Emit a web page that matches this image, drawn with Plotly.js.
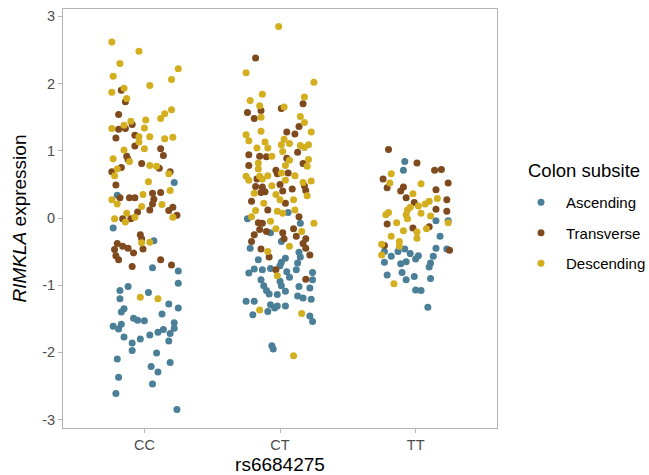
<!DOCTYPE html>
<html>
<head>
<meta charset="utf-8">
<script src="https://cdn.plot.ly/plotly-3.0.1.min.js"></script>
<style>html,body{margin:0;padding:0;background:#fff;}#chart{width:649px;height:475px;}</style>
</head>
<body>
<div id="chart"></div>
<script>
const genotypes = ['CC', 'CT', 'TT'];
const subsites = ['Ascending', 'Transverse', 'Descending'];
const legendTitle = 'Colon subsite';
const yTicks = [-3, -2, -1, 0, 1, 2, 3];
const yTickLabels = ['-3', '-2', '-1', '0', '1', '2', '3'];

// jitter offsets (category units) and expression values, per genotype and subsite
const ccAscJ = [0.22,-0.20,-0.23,0.07,0.06,0.25,0.25,-0.12,-0.18,0.03,-0.18,0.18,0.25,-0.15,-0.17,0.13,-0.08,-0.05,0,0.22,-0.23,-0.17,-0.19,0.22,0.14,0.10,0.19,0.04,-0.15,-0.03,-0.09,0.18,-0.09,0.09,-0.20,0.19,0.05,0.10,-0.19,0.06,-0.21,0.24];
const ccAscV = [0.53,0.34,-0.15,-0.34,-0.74,-0.79,-0.97,-1.02,-1.08,-1.11,-1.20,-1.28,-1.34,-1.35,-1.40,-1.43,-1.49,-1.52,-1.53,-1.56,-1.61,-1.58,-1.65,-1.64,-1.66,-1.70,-1.72,-1.74,-1.77,-1.80,-1.86,-1.83,-1.97,-2.01,-2.10,-2.15,-2.21,-2.29,-2.37,-2.47,-2.61,-2.85];
const ccTrJ = [-0.17,-0.14,-0.19,-0.09,-0.19,-0.14,-0.21,-0.07,-0.07,0.12,0.14,-0.13,-0.12,-0.02,0.11,-0.17,-0.24,0.19,-0.21,0.06,0.12,-0.18,-0.11,-0.07,0.07,0.06,0.21,0.04,-0.05,0.18,0.24,-0.16,-0.10,-0.03,-0.02,-0.20,-0.16,-0.12,-0.22,-0.01,-0.08,-0.21,-0.19,0.12,0.20,-0.09];
const ccTrV = [1.90,1.73,1.54,1.39,1.32,1.33,1.19,1.23,1.07,1.03,0.93,0.92,0.87,0.81,0.74,0.75,0.69,0.69,0.49,0.37,0.38,0.30,0.30,0.30,0.28,0.21,0.16,0.12,0.09,0.11,0.04,-0.01,-0.01,-0.25,-0.31,-0.38,-0.42,-0.45,-0.47,-0.46,-0.52,-0.56,-0.62,-0.62,-0.70,-0.72];
const ccDeJ = [-0.24,-0.04,-0.18,0.25,-0.23,0.20,0.04,-0.24,-0.15,-0.13,0.20,0.15,0.12,0.01,-0.10,-0.24,-0.15,0,-0.04,0.04,0.15,0.21,-0.04,0,-0.15,-0.11,-0.23,0.04,0.09,-0.20,-0.22,0.18,0.03,0.19,-0.01,-0.24,-0.20,0.13,-0.02,-0.13,0.21,-0.22,-0.07,-0.14,-0.02,0.04,-0.03,0.10];
const ccDeV = [2.62,2.48,2.30,2.22,2.11,2.06,1.97,1.87,1.93,1.78,1.61,1.55,1.48,1.46,1.44,1.33,1.38,1.34,1.21,1.21,1.18,1.20,1.13,1.03,1.01,0.84,0.88,0.78,0.77,0.73,0.63,0.66,0.54,0.41,0.35,0.27,0.21,0.20,0.17,0.07,0.01,-0.01,0.01,-0.06,-0.37,-0.36,-1.18,-1.20];

const ctAscJ = [0.06,-0.24,0.15,-0.07,0.01,-0.22,0.14,0.15,0.04,-0.16,0.01,0.13,0,-0.19,-0.13,-0.07,0.12,-0.23,0.05,0.24,0.07,0.24,-0.14,0,-0.12,0.14,0.22,0.01,-0.10,0.04,0.13,0.17,0.23,-0.02,-0.08,-0.25,-0.19,-0.07,-0.02,0.04,-0.04,-0.09,-0.20,0.22,0.24,-0.06,-0.05];
const ctAscV = [0.08,-0.01,-0.08,-0.22,-0.35,-0.45,-0.51,-0.58,-0.60,-0.62,-0.66,-0.67,-0.71,-0.76,-0.77,-0.75,-0.77,-0.82,-0.80,-0.81,-0.88,-0.92,-0.92,-0.94,-1.01,-1.02,-1.04,-1.01,-1.08,-1.09,-1.16,-1.19,-1.21,-1.14,-1.13,-1.24,-1.24,-1.29,-1.31,-1.31,-1.34,-1.39,-1.44,-1.46,-1.54,-1.90,-1.95];
const ctTrJ = [-0.18,0.17,0.01,-0.24,-0.14,-0.19,0.14,0.05,0.11,0.13,-0.23,-0.15,-0.10,0.05,-0.23,0.17,-0.03,-0.02,0.06,-0.17,-0.18,-0.13,-0.11,-0.14,0,0.02,0.09,0.18,0.19,-0.21,0.04,-0.09,0.14,-0.16,-0.13,-0.15,-0.10,-0.19,0.02,0.10,0.12,0.19,-0.21,0.03,0.17,0.19,-0.14,0.22,-0.08,-0.03,0.19];
const ctTrV = [2.38,1.70,1.63,1.57,1.60,1.48,1.36,1.28,1.25,0.98,0.94,0.92,0.91,0.89,0.78,0.81,0.71,0.66,0.67,0.58,0.47,0.46,0.39,0.38,0.50,0.40,0.43,0.48,0.41,0.25,0.22,0.12,0.02,-0.07,-0.08,-0.17,-0.20,-0.25,-0.22,-0.16,-0.27,-0.31,-0.35,-0.31,-0.38,-0.45,-0.46,-0.55,-0.58,-0.77,-0.91];
const ctDeJ = [-0.01,-0.25,0.25,-0.13,0.18,-0.22,-0.15,0.03,-0.14,0.15,0.18,-0.14,0.23,-0.25,0.03,-0.23,-0.11,0.01,0.07,0.15,0.21,0.18,-0.17,-0.09,0.02,-0.06,0.07,0.21,-0.16,0.04,0.20,-0.16,0.01,-0.25,-0.09,-0.15,0.11,-0.23,-0.13,0.04,0.17,0.23,-0.06,-0.19,-0.03,0,-0.12,0.10,0.20,-0.18,-0.02,0.02,0.11,-0.21,-0.07,0.25,-0.03,0.16,-0.09,0.07,-0.02,-0.15,0.16,0.10];
const ctDeV = [2.85,2.16,2.02,1.84,1.80,1.75,1.67,1.65,1.50,1.51,1.42,1.29,1.28,1.24,1.17,1.15,1.13,1.09,1.11,1.08,1.09,1.05,1.04,1.04,0.99,0.92,0.86,0.87,0.82,0.78,0.77,0.73,0.67,0.62,0.63,0.62,0.63,0.56,0.58,0.56,0.53,0.55,0.48,0.37,0.35,0.27,0.22,0.27,0.33,0.11,0.10,0.07,0.12,0.02,-0.05,-0.08,-0.16,-0.20,-0.50,-0.42,-0.86,-1.37,-1.42,-2.05];

const ttAscJ = [-0.08,-0.09,0.15,0.24,0.18,0.15,-0.23,-0.18,-0.13,-0.08,-0.04,0.02,0,-0.07,-0.11,-0.23,0.13,0.11,0.10,0.23,-0.21,-0.10,-0.01,-0.07,0.11,0,0.04,0.09];
const ttAscV = [0.84,0.71,-0.04,-0.04,-0.27,-0.45,-0.50,-0.57,-0.50,-0.46,-0.53,-0.56,-0.61,-0.65,-0.68,-0.66,-0.57,-0.67,-0.73,-0.46,-0.85,-0.81,-0.87,-0.92,-0.90,-1.07,-1.08,-1.33];
const ttTrJ = [-0.20,0.01,0.14,0.19,-0.24,0.24,-0.21,-0.09,-0.11,0.15,-0.07,0.23,-0.01,0.15,0.23,-0.21,-0.02,0.10,-0.23,0.25];
const ttTrV = [1.02,0.82,0.71,0.72,0.58,0.52,0.45,0.46,0.40,0.42,0.30,0.27,0.23,0.13,0.10,-0.09,-0.15,-0.13,-0.41,-0.48];
const ttDeJ = [-0.18,-0.19,0.04,-0.02,0.16,0.10,0.07,0.02,-0.04,-0.06,-0.20,-0.22,-0.07,0.04,0.11,-0.06,-0.14,0.24,0.08,-0.09,0.01,0.01,-0.18,-0.12,-0.12,-0.25,-0.25,-0.16];
const ttDeV = [0.66,0.52,0.51,0.36,0.29,0.25,0.21,0.18,0.16,0.12,0.08,0.05,0.05,0.07,0.03,-0.01,-0.07,-0.07,-0.16,-0.19,-0.21,-0.30,-0.27,-0.35,-0.42,-0.39,-0.55,-0.98];

const colors = ['#4a7f97', '#7f4a1e', '#d3ae1f'];
const FONT = 'Liberation Sans, Arial, Helvetica, sans-serif';

const jitters = [[ccAscJ, ctAscJ, ttAscJ], [ccTrJ, ctTrJ, ttTrJ], [ccDeJ, ctDeJ, ttDeJ]];
const values = [[ccAscV, ctAscV, ttAscV], [ccTrV, ctTrV, ttTrV], [ccDeV, ctDeV, ttDeV]];

const traces = subsites.map((name, s) => {
  const x = [], y = [];
  genotypes.forEach((g, gi) => {
    jitters[s][gi].forEach((j, k) => { x.push(gi + 1 + j); y.push(values[s][gi][k]); });
  });
  return {
    type: 'scatter', mode: 'markers', name: name, x: x, y: y,
    legendgroup: name,
    marker: {color: colors[s], size: 7, line: {width: 0}},
    hoverinfo: 'skip'
  };
});

const layout = {
  width: 649, height: 475,
  margin: {l: 63, r: 152, t: 9, b: 47},
  paper_bgcolor: '#ffffff', plot_bgcolor: '#ffffff',
  font: {family: FONT, color: '#000000'},
  showlegend: true,
  xaxis: {
    range: [0.4, 3.6], tickmode: 'array', tickvals: [1, 2, 3], ticktext: genotypes,
    showgrid: false, zeroline: false, automargin: false,
    showline: true, mirror: true, linecolor: '#b3b3b3', linewidth: 1,
    ticks: 'outside', ticklen: 4, tickcolor: '#b3b3b3', tickwidth: 1,
    tickfont: {family: FONT, size: 14.5, color: '#4d4d4d'},
    title: {text: 'rs6684275', font: {family: FONT, size: 19, color: '#000000'}, standoff: 5}
  },
  yaxis: {
    range: [-3.125, 3.11], tickmode: 'array', tickvals: yTicks, ticktext: yTickLabels,
    showgrid: false, zeroline: false, automargin: false,
    showline: true, mirror: true, linecolor: '#b3b3b3', linewidth: 1,
    ticks: 'outside', ticklen: 4, tickcolor: '#b3b3b3', tickwidth: 1,
    tickfont: {family: FONT, size: 14.5, color: '#4d4d4d'},
    title: {text: '<i>RIMKLA</i> expression', font: {family: FONT, size: 19, color: '#000000'}, standoff: 10}
  },
  legend: {
    xref: 'container', yref: 'container',
    x: 516 / 649, xanchor: 'left', y: 1 - 186 / 475, yanchor: 'top',
    bgcolor: 'rgba(0,0,0,0)', borderwidth: 0,
    tracegroupgap: 8, itemwidth: 40,
    font: {family: FONT, size: 15, color: '#000000'}
  },
  annotations: [{
    text: legendTitle, xref: 'paper', yref: 'paper',
    x: (526 - 63) / 434, xanchor: 'left', y: (428 - 170) / 419, yanchor: 'middle',
    showarrow: false, font: {family: FONT, size: 18.5, color: '#000000'}
  }]
};

Plotly.newPlot('chart', traces, layout, {displayModeBar: false, staticPlot: true});
</script>
</body>
</html>
